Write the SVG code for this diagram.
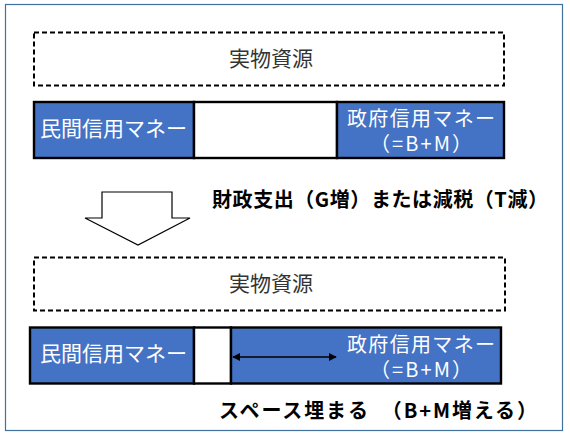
<svg xmlns="http://www.w3.org/2000/svg" width="570" height="438" viewBox="0 0 570 438">
<defs>
<style>
.frame{fill:#fff;stroke:#41719C;stroke-width:1.2}
.dash{fill:#fff;stroke:#000;stroke-width:2;stroke-dasharray:5 3}
.blue{fill:#4472C4;stroke:#000;stroke-width:2.4}
.white{fill:#fff;stroke:#000;stroke-width:2.4}
.t{font-family:"Noto Sans CJK JP","Noto Sans",sans-serif;font-size:21px;font-weight:normal}
.t2{font-family:"Noto Sans CJK JP","Noto Sans",sans-serif;font-size:20px;font-weight:normal}
.tw{fill:#fff}
.tk{fill:#333}
.b{font-family:"Noto Sans CJK JP","Liberation Sans",sans-serif;font-size:20px;font-weight:bold;fill:#000}
.conn{stroke:#000;stroke-width:1.3;fill:none}
</style>
<marker id="ah" viewBox="0 0 10 10" refX="9" refY="5" markerWidth="8" markerHeight="8" markerUnits="userSpaceOnUse" orient="auto-start-reverse">
<path d="M0,0 L10,5 L0,10 z" fill="#000"/>
</marker>
</defs>
<rect class="frame" x="5.5" y="4.5" width="557" height="426"/>

<g id="resource1">
<rect class="dash" x="34" y="32.5" width="470" height="53"/>
<text class="t tk" x="271" y="66" text-anchor="middle">実物資源</text>
</g>

<g id="bar1">
<rect class="blue" x="34" y="102" width="160" height="56"/>
<rect class="white" x="194" y="102" width="143" height="56"/>
<rect class="blue" x="337" y="102" width="167" height="56"/>
<text class="t tw" x="40" y="135.5">民間信用マネー</text>
<text class="t2 tw" x="421" y="126" text-anchor="middle" textLength="148" lengthAdjust="spacing">政府信用マネー</text>
<text class="t2 tw" x="421" y="151" text-anchor="middle" textLength="102" lengthAdjust="spacing">（=B+M）</text>
</g>

<g id="downarrow">
<polygon points="102,192 172,192 172,218 190,218 138,245 85,218 102,218" fill="#fff" stroke="#000" stroke-width="1.2"/>
</g>

<g id="label1">
<text class="b" x="212" y="207" textLength="336" lengthAdjust="spacing">財政支出（G増）または減税（T減）</text>
</g>

<g id="resource2">
<rect class="dash" x="34" y="257.5" width="471" height="53"/>
<text class="t tk" x="271" y="291" text-anchor="middle">実物資源</text>
</g>

<g id="bar2">
<rect class="blue" x="30" y="327.5" width="164" height="56"/>
<rect class="white" x="194" y="327.5" width="37" height="56"/>
<rect class="blue" x="231" y="327.5" width="270" height="56"/>
<text class="t tw" x="40" y="361">民間信用マネー</text>
<text class="t2 tw" x="421" y="351.5" text-anchor="middle" textLength="148" lengthAdjust="spacing">政府信用マネー</text>
<text class="t2 tw" x="421" y="376.5" text-anchor="middle" textLength="102" lengthAdjust="spacing">（=B+M）</text>
</g>

<g id="connectors">
<line class="conn" x1="233" y1="357" x2="336" y2="357" marker-start="url(#ah)" marker-end="url(#ah)"/>
</g>

<g id="label2">
<text class="b" x="219" y="418" textLength="318" lengthAdjust="spacing">スペース埋まる　（B+M増える）</text>
</g>
</svg>
